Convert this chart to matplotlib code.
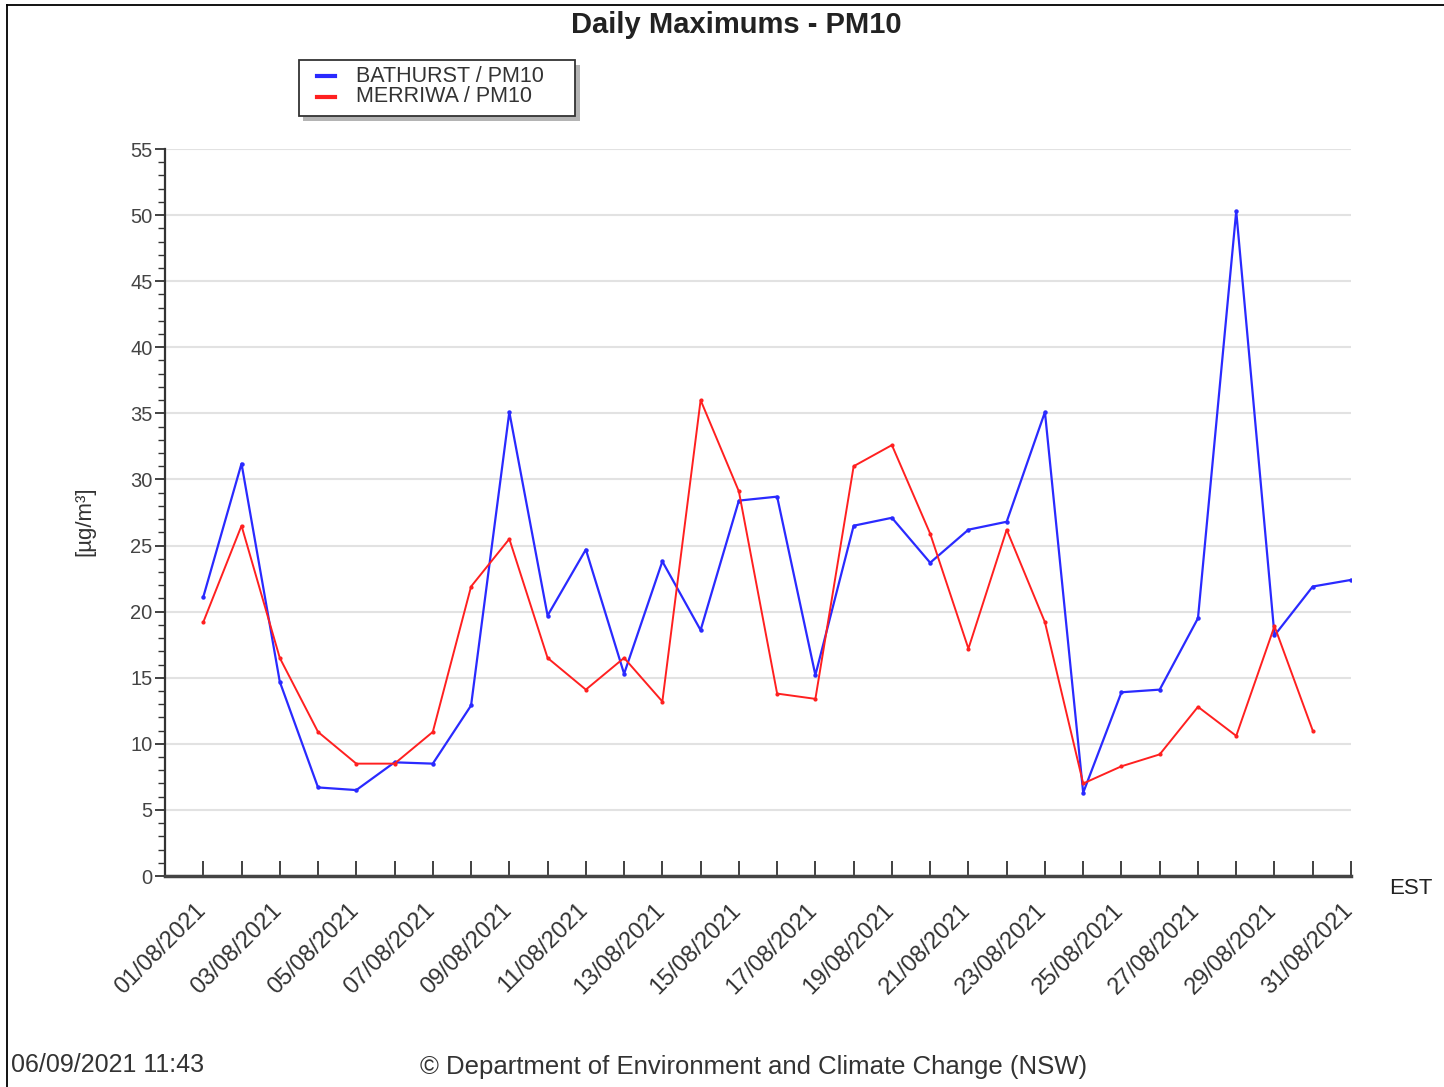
import matplotlib
matplotlib.use("Agg")
import matplotlib.pyplot as plt
from matplotlib.lines import Line2D
from matplotlib.patches import Rectangle
from matplotlib.ticker import MultipleLocator
from matplotlib.transforms import ScaledTranslation, blended_transform_factory

plt.rcParams['font.family'] = ['Liberation Sans', 'DejaVu Sans']

days = list(range(1, 32))
date_labels = [f"{d:02d}/08/2021" for d in days]

series_names = ['BATHURST / PM10', 'MERRIWA / PM10']
bathurst = [21.1, 31.2, 14.7, 6.7, 6.5, 8.6, 8.5, 12.9, 35.1, 19.7,
            24.7, 15.3, 23.8, 18.6, 28.4, 28.7, 15.2, 26.5, 27.1, 23.7,
            26.2, 26.8, 35.1, 6.3, 13.9, 14.1, 19.5, 50.3, 18.2, 21.9, 22.4]
merriwa = [19.2, 26.5, 16.5, 10.9, 8.5, 8.5, 10.9, 21.9, 25.5, 16.5,
           14.1, 16.5, 13.2, 36.0, 29.1, 13.8, 13.4, 31.0, 32.6, 25.9,
           17.2, 26.2, 19.2, 7.0, 8.3, 9.2, 12.8, 10.6, 18.9, 11.0]
colors = ['#2a2aff', '#ff2020']

W, H = 1444, 1087
fig = plt.figure(figsize=(W / 100, H / 100), dpi=100)
fig.patch.set_facecolor('white')

def fx(px):
    return px / W

def fy(py):
    return 1 - py / H

ax = fig.add_axes([fx(165), fy(876), fx(1351) - fx(165), fy(149) - fy(876)])
ax.set_xlim(0, 31)
ax.set_ylim(0, 55)

ax.plot(days, bathurst, color=colors[0], lw=1.6, marker='o', ms=2.2, zorder=3)
ax.plot(days[:len(merriwa)], merriwa, color=colors[1], lw=1.4, marker='o', ms=2.0, zorder=3)

ax.yaxis.set_major_locator(MultipleLocator(5))
ax.yaxis.set_minor_locator(MultipleLocator(1))
ax.grid(axis='y', which='major', color='#e2e2e2', lw=1.5, zorder=0)
ax.set_axisbelow(True)

ax.set_xticks(days)
ax.set_xticklabels([])
ax.tick_params(axis='x', direction='in', length=11, width=1.3, color='#333333')
ax.tick_params(axis='y', which='major', direction='out', length=7, width=1.3,
               color='#333333', labelsize=14.5, labelcolor='#444444', pad=2)
ax.tick_params(axis='y', which='minor', direction='out', length=5, width=1.0, color='#333333')

# rotated date labels, every second day
trans = blended_transform_factory(ax.transData, ax.transAxes) + \
    ScaledTranslation(-9 / 100, -23 / 100, fig.dpi_scale_trans)
for d, lab in zip(days[::2], date_labels[::2]):
    ax.text(d, 0, lab, transform=trans, rotation=45, rotation_mode='anchor',
            ha='right', va='top', fontsize=17, color='#333333', clip_on=False)

for s in ['top', 'right']:
    ax.spines[s].set_visible(False)
ax.spines['left'].set_color('#333333')
ax.spines['left'].set_linewidth(1.6)
ax.spines['bottom'].set_color('#444444')
ax.spines['bottom'].set_linewidth(2.5)

fig.text(fx(85), fy(521), '[µg/m³]', rotation=90, ha='center', va='center',
         fontsize=16, color='#333333')

fig.text(fx(736), fy(25), 'Daily Maximums - PM10', ha='center', va='center',
         fontsize=21, fontweight='bold', color='#222222')

# legend box
fig.add_artist(Rectangle((fx(303), fy(121)), fx(577) - fx(300), fy(60) - fy(116),
                         transform=fig.transFigure, facecolor='#b4b4b4',
                         edgecolor='none', zorder=1))
fig.add_artist(Rectangle((fx(299), fy(116)), fx(575) - fx(299), fy(60) - fy(116),
                         transform=fig.transFigure, facecolor='white',
                         edgecolor='#333333', lw=1.3, zorder=2))
for i, (name, c) in enumerate(zip(series_names, colors)):
    yy = 76 + 21 * i
    fig.add_artist(Line2D([fx(317), fx(335)], [fy(yy), fy(yy)], color=c, lw=3,
                          transform=fig.transFigure, zorder=3))
    fig.text(fx(356), fy(yy), name, ha='left', va='center', fontsize=15.5,
             color='#333333', zorder=3)

fig.text(fx(1389), fy(888), 'EST', ha='left', va='center', fontsize=16, color='#222222')
fig.text(fx(11), fy(1065), '06/09/2021 11:43', ha='left', va='center',
         fontsize=18, color='#333333')
fig.text(fx(754), fy(1067), '© Department of Environment and Climate Change (NSW)',
         ha='center', va='center', fontsize=18.5, color='#333333')

fig.add_artist(Line2D([fx(7), fx(7)], [0, fy(5)], color='black', lw=1.3,
                      transform=fig.transFigure))
fig.add_artist(Line2D([fx(7), 1], [fy(5), fy(5)], color='black', lw=1.3,
                      transform=fig.transFigure))

fig.savefig('out.png', dpi=100)
